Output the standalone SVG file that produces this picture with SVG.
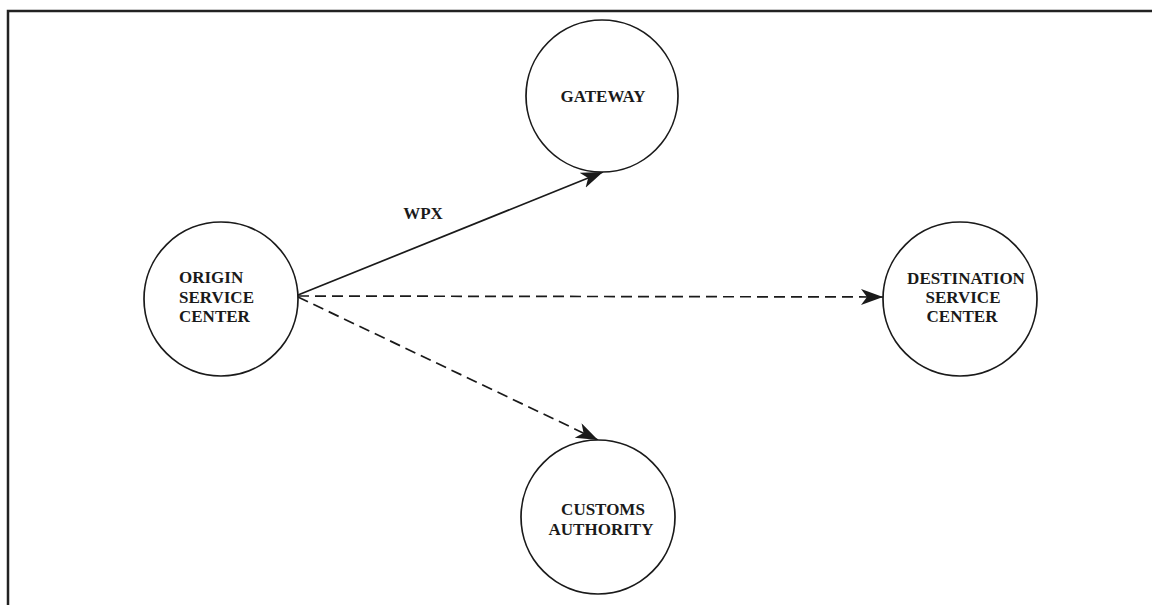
<svg xmlns="http://www.w3.org/2000/svg" width="1152" height="605" viewBox="0 0 1152 605">
  <style>
    .node circle { fill: #ffffff; stroke: #1a1a1a; stroke-width: 1.7; }
    .node text { font-family: "Liberation Serif", "Times New Roman", serif; font-weight: bold; font-size: 17px; fill: #1a1a1a; }
    .edge { fill: none; stroke: #1a1a1a; stroke-width: 1.7; }
    .dashed { stroke-dasharray: 11 6; }
    .label { font-family: "Liberation Serif", "Times New Roman", serif; font-weight: bold; font-size: 17px; fill: #1a1a1a; }
  </style>
  <defs>
    <marker id="arrow" markerUnits="userSpaceOnUse" markerWidth="24" markerHeight="18" refX="22" refY="8" orient="auto">
      <path d="M0,0 L22,8 L0,16 L6,8 z" fill="#1a1a1a"/>
    </marker>
  </defs>

  <rect x="0" y="0" width="1152" height="605" fill="#ffffff"/>

  <!-- frame -->
  <path d="M8,605 L8,11 L1152,11" fill="none" stroke="#222" stroke-width="2.5"/>

  <!-- connectors -->
  <g id="connectors">
    <line class="edge" x1="298" y1="295" x2="603" y2="172" marker-end="url(#arrow)"/>
    <line class="edge dashed" x1="298" y1="296" x2="883" y2="297" marker-end="url(#arrow)"/>
    <line class="edge dashed" x1="298" y1="297" x2="598" y2="440" marker-end="url(#arrow)"/>
    <text class="label" x="423" y="219" text-anchor="middle">WPX</text>
  </g>

  <g id="origin" class="node">
    <circle cx="221" cy="299" r="77"/>
    <text x="179" y="283">ORIGIN</text>
    <text x="179" y="303">SERVICE</text>
    <text x="179" y="322">CENTER</text>
  </g>

  <g id="gateway" class="node">
    <circle cx="602" cy="96" r="76"/>
    <text x="603" y="102" text-anchor="middle">GATEWAY</text>
  </g>

  <g id="destination" class="node">
    <circle cx="960" cy="299" r="77"/>
    <text x="966" y="284" text-anchor="middle">DESTINATION</text>
    <text x="963" y="303" text-anchor="middle">SERVICE</text>
    <text x="962" y="322" text-anchor="middle">CENTER</text>
  </g>

  <g id="customs" class="node">
    <circle cx="598" cy="517" r="77"/>
    <text x="603" y="515" text-anchor="middle">CUSTOMS</text>
    <text x="601" y="535" text-anchor="middle">AUTHORITY</text>
  </g>
</svg>
